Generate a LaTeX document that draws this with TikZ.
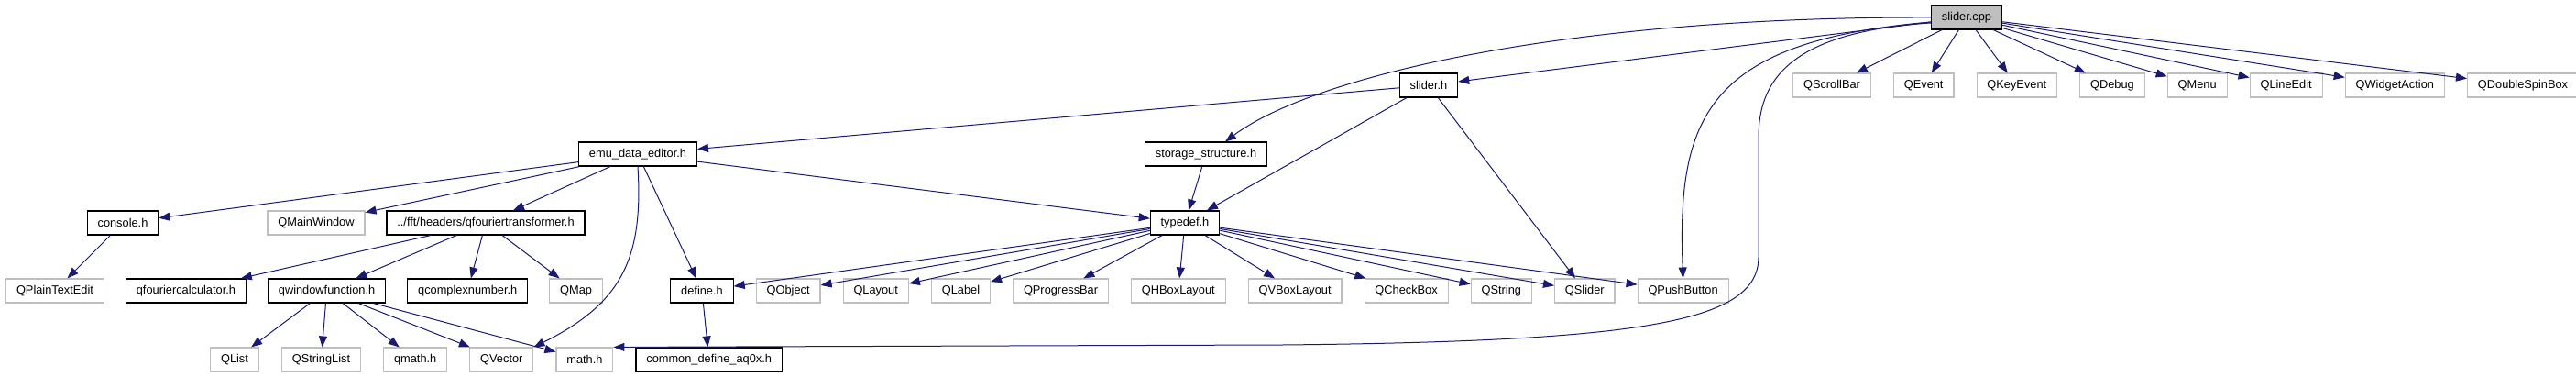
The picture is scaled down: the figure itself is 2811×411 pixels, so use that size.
\documentclass[tikz,border=0pt]{standalone}
\usepackage{fontspec}
\setmainfont{Liberation Sans}
\usetikzlibrary{arrows.meta,positioning}

\definecolor{edgeblue}{HTML}{191970}
\definecolor{extgrey}{HTML}{BFBFBF}
\newcommand{\graphfont}{\fontsize{12.8}{15}\selectfont}

\begin{document}
\begin{tikzpicture}[
    x=1pt, y=-1pt,
    file/.style={draw=black, line width=1.1pt, minimum height=26pt, inner xsep=11.4pt, inner ysep=0pt, font=\graphfont},
    ext/.style={file, draw=extgrey},
    src/.style={file, fill=extgrey},
    dep/.style={-{Triangle[length=12pt, width=9pt]}, draw=edgeblue, line width=1pt}
]
\useasboundingbox (0,0) rectangle (2811,411);

% top level
\node[src] (cpp) at (2146,19) {slider.cpp};

% first level
\node[file] (sliderh) at (1559,93) {slider.h};
\node[ext] (scrollbar) at (1999,93) {QScrollBar};
\node[ext, right=24pt of scrollbar] (qevent) {QEvent};
\node[ext, right=24pt of qevent] (keyevent) {QKeyEvent};
\node[ext, right=24pt of keyevent] (qdebug) {QDebug};
\node[ext, right=24pt of qdebug] (qmenu) {QMenu};
\node[ext, right=24pt of qmenu] (lineedit) {QLineEdit};
\node[ext, right=24pt of lineedit] (widgetaction) {QWidgetAction};
\node[ext, right=24pt of widgetaction] (dspin) {QDoubleSpinBox};

% second level
\node[file] (emu) at (696,168) {emu\_data\_editor.h};
\node[file] (ss) at (1316,168) {storage\_structure.h};

% third level
\node[file] (console) at (134,243) {console.h};
\node[ext] (mainwin) at (345,243) {QMainWindow};
\node[file] (qft) at (530,243) {../fft/headers/qfouriertransformer.h};
\node[file] (typedef) at (1293,243) {typedef.h};

% fourth level
\node[ext] (plaintext) at (60,317) {QPlainTextEdit};
\node[file, right=23pt of plaintext] (qfcalc) {qfouriercalculator.h};
\node[file, right=23pt of qfcalc] (qwinfun) {qwindowfunction.h};
\node[file, right=23pt of qwinfun] (qcomplex) {qcomplexnumber.h};
\node[ext, right=23pt of qcomplex] (qmap) {QMap};
\node[file] (define) at (766,317) {define.h};
\node[ext, right=24pt of define] (qobject) {QObject};
\node[ext, right=24pt of qobject] (qlayout) {QLayout};
\node[ext, right=24pt of qlayout] (qlabel) {QLabel};
\node[ext, right=24pt of qlabel] (progress) {QProgressBar};
\node[ext, right=24pt of progress] (hbox) {QHBoxLayout};
\node[ext, right=24pt of hbox] (vbox) {QVBoxLayout};
\node[ext, right=24pt of vbox] (checkbox) {QCheckBox};
\node[ext, right=24pt of checkbox] (qstring) {QString};
\node[ext, right=24pt of qstring] (qslider) {QSlider};
\node[ext, right=24pt of qslider] (pushbtn) {QPushButton};

% bottom level
\node[ext] (qlist) at (256,392) {QList};
\node[ext, right=24pt of qlist] (strlist) {QStringList};
\node[ext, right=24pt of strlist] (qmath) {qmath.h};
\node[ext, right=24pt of qmath] (qvector) {QVector};
\node[ext, right=24pt of qvector] (math) {math.h};
\node[file, right=24pt of math] (common) {common\_define\_aq0x.h};

% slider.cpp
\draw[dep] (cpp) -- (sliderh);
\draw[dep] (cpp.west) .. controls (1700,18) and (1430,85) .. ([xshift=21pt]ss.north);
\draw[dep] ([yshift=-5pt]cpp.west) .. controls (1860,45) and (1830,130) .. (pushbtn.north);
\draw[dep] ([yshift=-6pt]cpp.west) .. controls (1950,35) and (1919,90) .. (1919,150) -- (1919,280)
    .. controls (1919,350) and (1800,372) .. (1400,376) -- (math.north east);
\draw[dep] (cpp) -- (scrollbar);
\draw[dep] (cpp) -- (qevent);
\draw[dep] (cpp) -- (keyevent);
\draw[dep] (cpp) -- (qdebug);
\draw[dep] (cpp) -- (qmenu);
\draw[dep] (cpp) -- (lineedit);
\draw[dep] (cpp) -- (widgetaction);
\draw[dep] (cpp) -- (dspin);

% slider.h
\draw[dep] (sliderh) -- (emu);
\draw[dep] (sliderh) -- (typedef);
\draw[dep] (sliderh) -- (qslider);

% emu_data_editor.h
\draw[dep] (emu) -- (console);
\draw[dep] (emu) -- (mainwin);
\draw[dep] (emu) -- (qft);
\draw[dep] (emu.south) .. controls (702,280) and (680,330) .. (qvector.north east);
\draw[dep] (emu) -- (define);
\draw[dep] (emu) -- (typedef);

% storage_structure.h and console.h
\draw[dep] (ss) -- (typedef);
\draw[dep] (console) -- (plaintext);

% qfouriertransformer.h
\draw[dep] (qft) -- (qfcalc);
\draw[dep] (qft) -- (qwinfun);
\draw[dep] (qft) -- (qcomplex);
\draw[dep] (qft) -- (qmap);

% qwindowfunction.h
\draw[dep] (qwinfun) -- (qlist);
\draw[dep] (qwinfun) -- (strlist);
\draw[dep] (qwinfun) -- (qmath);
\draw[dep] (qwinfun) -- (qvector);
\draw[dep] (qwinfun) -- (math);

% define.h
\draw[dep] (define) -- (common);

% typedef.h
\draw[dep] (typedef) -- (define);
\draw[dep] (typedef) -- (qobject);
\draw[dep] (typedef) -- (qlayout);
\draw[dep] (typedef) -- (qlabel);
\draw[dep] (typedef) -- (progress);
\draw[dep] (typedef) -- (hbox);
\draw[dep] (typedef) -- (vbox);
\draw[dep] (typedef) -- (checkbox);
\draw[dep] (typedef) -- (qstring);
\draw[dep] (typedef) -- (qslider);
\draw[dep] (typedef) -- (pushbtn);
\end{tikzpicture}
\end{document}
